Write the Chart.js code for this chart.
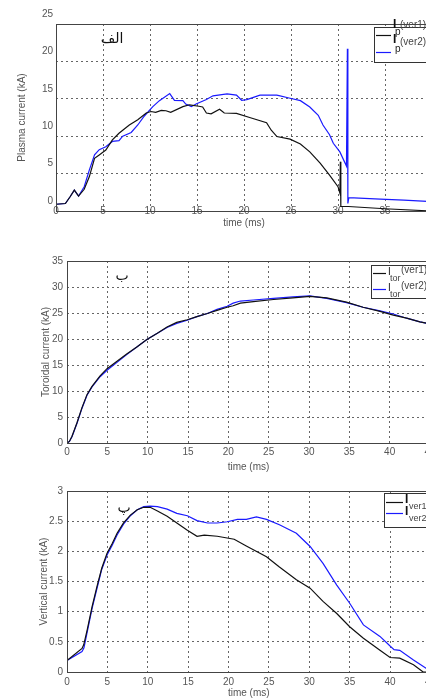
<!DOCTYPE html>
<html>
<head>
<meta charset="utf-8">
<script src="https://cdn.jsdelivr.net/npm/chart.js@4.4.1/dist/chart.umd.min.js"></script>
<style>
    body { margin: 0; background: #fff; overflow: hidden; width: 426px; height: 700px; position: relative; }
    canvas { position: absolute; left: 0; }
</style>
</head>
<body>
<canvas id="c1" width="440" height="232" style="top:0px"></canvas>
<canvas id="c2" width="440" height="230" style="top:248px"></canvas>
<canvas id="c3" width="440" height="222" style="top:478px"></canvas>
<script>
// plasma current (kA) vs time (ms)
const tIp1 = [0, 1.0, 1.5, 1.95, 2.4, 3.0, 3.55, 4.1, 4.6, 5.3, 6.0, 6.7, 7.8, 8.7, 9.6, 10.1, 10.6, 11.2, 11.7, 12.2, 13.5, 14.2, 15.2, 15.6, 16.0, 16.5, 17.4, 17.9, 19.2, 20.6, 22.4, 22.9, 23.5, 24.9, 26.0, 27.0, 28.1, 29.1, 30.0, 30.2, 30.25, 30.3, 31.1, 35, 40];
const ipVer1 = [0.9, 1.0, 1.9, 2.8, 2.0, 2.9, 4.6, 7.05, 7.5, 8.15, 9.5, 10.4, 11.5, 12.2, 13.1, 13.3, 13.2, 13.45, 13.4, 13.2, 13.95, 14.2, 14.0, 13.9, 13.1, 13.0, 13.6, 13.1, 13.05, 12.5, 11.8, 10.8, 9.95, 9.6, 8.95, 7.9, 6.4, 4.8, 3.25, 2.4, 6.6, 0.6, 0.6, 0.3, 0.0];
const tIp2 = [0, 1.0, 1.5, 1.95, 2.4, 3.0, 3.55, 4.1, 4.6, 5.3, 6.0, 6.7, 7.1, 8.0, 8.7, 9.4, 10.3, 11.0, 12.1, 12.6, 13.5, 13.8, 14.4, 14.9, 16.0, 16.7, 18.2, 19.2, 19.75, 20.3, 21.7, 23.5, 24.9, 26.0, 27.0, 27.9, 28.4, 29.1, 29.5, 30.2, 30.9, 31.0, 31.05, 31.15, 34.5, 37, 40];
const ipVer2 = [0.9, 1.0, 1.9, 2.8, 2.0, 3.25, 5.5, 7.5, 8.2, 8.6, 9.3, 9.4, 10.0, 10.5, 11.5, 12.7, 13.95, 14.75, 15.7, 14.8, 14.75, 14.3, 13.95, 14.3, 14.9, 15.4, 15.65, 15.5, 14.8, 14.9, 15.5, 15.5, 15.07, 14.75, 13.9, 12.8, 11.5, 10.2, 9.05, 7.9, 6.0, 21.7, 1.0, 1.8, 1.6, 1.45, 1.25];

// toroidal current (kA)
const tTor = [0, 0.3, 0.62, 1.24, 1.86, 2.48, 3.1, 4.1, 4.96, 6.2, 7.4, 8.7, 9.9, 11.2, 12.4, 13.6, 14.9, 16.1, 17.4, 18.6, 19.85, 20.6, 21.5, 23.1, 25.6, 28.0, 30.1, 32.2, 34.65, 36.7, 38.8, 40.45, 42.1, 43.75, 45];
const torVer1 = [0, 0.3, 1.3, 3.9, 6.8, 9.3, 10.9, 12.9, 14.3, 15.7, 17.1, 18.5, 19.9, 21.1, 22.3, 23.2, 23.7, 24.3, 24.9, 25.5, 26.1, 26.4, 26.9, 27.2, 27.6, 27.9, 28.2, 27.9, 27.1, 26.1, 25.3, 24.6, 24.0, 23.3, 22.9];
const torVer2 = [0, 0.3, 1.2, 3.8, 6.7, 9.2, 10.8, 12.75, 14.0, 15.5, 17.0, 18.5, 19.9, 21.1, 22.2, 23.0, 23.6, 24.3, 24.9, 25.7, 26.3, 26.9, 27.3, 27.5, 27.8, 28.1, 28.3, 27.8, 27.0, 26.1, 25.4, 24.8, 24.0, 23.3, 22.9];

// vertical current (kA)
const tVer1 = [0, 1.86, 2.07, 2.5, 3.1, 3.7, 4.3, 4.96, 5.6, 6.2, 7.0, 7.85, 8.7, 9.5, 10.3, 11.2, 12.4, 13.6, 14.9, 16.1, 17.0, 18.6, 20.7, 22.2, 24.7, 26.3, 28.4, 30.1, 31.7, 33.4, 35.0, 36.7, 38.75, 40.0, 41.2, 42.9, 44.1, 45];
const ivVer1 = [0.19, 0.39, 0.45, 0.70, 1.08, 1.41, 1.72, 1.97, 2.13, 2.30, 2.47, 2.6, 2.69, 2.73, 2.73, 2.67, 2.58, 2.47, 2.35, 2.25, 2.27, 2.25, 2.2, 2.09, 1.91, 1.74, 1.53, 1.39, 1.17, 0.97, 0.75, 0.56, 0.36, 0.24, 0.23, 0.12, 0.0, 0.0];
const tVer2 = [0, 1.86, 2.1, 2.5, 3.1, 3.7, 4.3, 4.96, 5.6, 6.2, 7.0, 7.85, 8.7, 9.5, 10.3, 11.2, 12.4, 13.6, 14.9, 16.1, 17.4, 18.6, 19.85, 21.1, 22.2, 23.45, 24.7, 26.3, 28.4, 30.1, 31.7, 33.4, 35.0, 36.7, 38.75, 40.0, 40.5, 41.2, 42.9, 44.5, 45];
const ivVer2 = [0.19, 0.34, 0.40, 0.66, 1.05, 1.38, 1.70, 1.94, 2.10, 2.27, 2.45, 2.59, 2.69, 2.74, 2.75, 2.74, 2.70, 2.63, 2.59, 2.51, 2.47, 2.47, 2.49, 2.53, 2.53, 2.57, 2.53, 2.44, 2.30, 2.08, 1.80, 1.44, 1.14, 0.78, 0.59, 0.43, 0.37, 0.36, 0.2, 0.06, 0.03];

const tickColor = "#555";
const tickFont = { family: "Liberation Sans", size: 10 };

function pts(xs, ys) {
    return xs.map((x, i) => ({ x: x, y: ys[i] }));
}

function line(label, data, color) {
    return { label, data, borderColor: color, borderWidth: 1.2, pointRadius: 0, tension: 0, fill: false };
}

function xScale(max, h, pad, titlePad, mirror) {
    return {
        type: "linear", min: 0, max: max,
        afterFit: s => { s.height = h; },
        ticks: { stepSize: 5, padding: pad, mirror: !!mirror, color: tickColor, font: tickFont, maxRotation: 0, autoSkip: false },
        grid: { color: "#666", lineWidth: 1, drawTicks: false },
        border: { display: false, dash: [2, 3] },
        title: { display: true, text: "time (ms)", color: tickColor, font: tickFont, padding: { top: 0, bottom: titlePad } }
    };
}

function yScale(max, step, w, pad, title, labelOffset) {
    return {
        min: 0, max: max,
        afterFit: s => { s.width = w; },
        ticks: { stepSize: step, padding: pad, color: tickColor, font: tickFont, labelOffset: labelOffset, callback: v => v },
        grid: { color: "#666", lineWidth: 1, drawTicks: false },
        border: { display: false, dash: [2, 3] },
        title: { display: true, text: title, color: tickColor, font: tickFont, padding: { top: 2, bottom: 0 } }
    };
}

function text(ctx, s, x, y, font, color) {
    ctx.font = font;
    ctx.fillStyle = color || "#222";
    ctx.textBaseline = "middle";
    ctx.textAlign = "left";
    ctx.fillText(s, x, y);
}

// frame + legend + panel letter, drawn after the chart
function decor(drawExtra) {
    return {
        id: "decor",
        afterDraw(chart) {
            const ctx = chart.ctx;
            const a = chart.chartArea;
            ctx.save();
            ctx.strokeStyle = "#444";
            ctx.lineWidth = 1;
            ctx.strokeRect(Math.round(a.left) + 0.5, Math.round(a.top) + 0.5, Math.round(a.right - a.left), Math.round(a.bottom - a.top));
            drawExtra(ctx);
            ctx.restore();
        }
    };
}

function legendBox(ctx, x, y, w, h) {
    ctx.fillStyle = "#fff";
    ctx.fillRect(x, y, w, h);
    ctx.strokeStyle = "#333";
    ctx.lineWidth = 1;
    ctx.strokeRect(x + 0.5, y + 0.5, w, h);
}

function seg(ctx, x1, x2, y, color) {
    ctx.strokeStyle = color;
    ctx.lineWidth = 1.2;
    ctx.beginPath();
    ctx.moveTo(x1, y + 0.5);
    ctx.lineTo(x2, y + 0.5);
    ctx.stroke();
}

const small = "10px 'Liberation Sans'";
const tiny = "9px 'Liberation Sans'";
const bold = "bold 12px 'Liberation Sans'";
const persian = "14px 'DejaVu Sans'";

new Chart(document.getElementById("c1"), {
    type: "line",
    data: {
        datasets: [
            line("Ip(ver1)", pts(tIp1, ipVer1), "#111"),
            line("Ip(ver2)", pts(tIp2, ipVer2), "#1a1aff")
        ]
    },
    options: {
        responsive: false, animation: false,
        layout: { padding: { left: 14, top: 24, right: 8, bottom: 1 } },
        plugins: { legend: { display: false }, tooltip: { enabled: false } },
        scales: {
            x: xScale(40, 20, -6, 2, true),
            y: yScale(25, 5, 42, 3, "Plasma current (kA)", -10)
        }
    },
    plugins: [decor(ctx => {
        legendBox(ctx, 374, 27, 70, 35);
        text(ctx, "I", 393, 25, bold, "#111");
        text(ctx, "(ver1)", 400, 25, small, "#444");
        seg(ctx, 376, 391, 35, "#111");
        text(ctx, "p", 395, 32, small, "#222");
        text(ctx, "I", 393, 40, bold, "#111");
        text(ctx, "(ver2)", 400, 42, small, "#444");
        seg(ctx, 376, 391, 52, "#1a1aff");
        text(ctx, "p", 395, 49, small, "#222");
        ctx.direction = "rtl";
        ctx.font = persian;
        ctx.fillStyle = "#111";
        ctx.textAlign = "center";
        ctx.fillText("الف", 112, 39);
    })]
});

new Chart(document.getElementById("c2"), {
    type: "line",
    data: {
        datasets: [
            line("Itor(ver1)", pts(tTor, torVer1), "#111"),
            line("Itor(ver2)", pts(tTor, torVer2), "#1a1aff")
        ]
    },
    options: {
        responsive: false, animation: false,
        layout: { padding: { left: 38, top: 13, right: 10, bottom: 3 } },
        plugins: { legend: { display: false }, tooltip: { enabled: false } },
        scales: {
            x: xScale(45, 32, 3, 2),
            y: yScale(35, 5, 29, 4, "Toroidal current (kA)", 0)
        }
    },
    plugins: [decor(ctx => {
        legendBox(ctx, 371, 17, 70, 33);
        seg(ctx, 373, 386, 25, "#111");
        text(ctx, "I", 388, 24, small, "#222");
        text(ctx, "tor", 390, 31, tiny, "#444");
        text(ctx, "(ver1)", 401, 22, small, "#444");
        seg(ctx, 373, 386, 41, "#1a1aff");
        text(ctx, "I", 388, 40, small, "#222");
        text(ctx, "tor", 390, 47, tiny, "#444");
        text(ctx, "(ver2)", 401, 38, small, "#444");
        ctx.direction = "rtl";
        ctx.font = persian;
        ctx.fillStyle = "#111";
        ctx.textAlign = "center";
        ctx.fillText("ب", 122, 28);
    })]
});

new Chart(document.getElementById("c3"), {
    type: "line",
    data: {
        datasets: [
            line("Iver1", pts(tVer1, ivVer1), "#111"),
            line("Iver2", pts(tVer2, ivVer2), "#1a1aff")
        ]
    },
    options: {
        responsive: false, animation: false,
        layout: { padding: { left: 36, top: 13, right: 9, bottom: 0 } },
        plugins: { legend: { display: false }, tooltip: { enabled: false } },
        scales: {
            x: xScale(45, 28, 4, 1),
            y: yScale(3, 0.5, 31, 4, "Vertical current (kA)", 0)
        }
    },
    plugins: [decor(ctx => {
        legendBox(ctx, 384, 15, 60, 34);
        seg(ctx, 386, 403, 24, "#111");
        text(ctx, "I", 405, 22, bold, "#111");
        text(ctx, "ver1", 409, 29, tiny, "#444");
        seg(ctx, 386, 403, 35, "#1a1aff");
        text(ctx, "I", 405, 34, bold, "#111");
        text(ctx, "ver2", 409, 41, tiny, "#444");
        ctx.direction = "rtl";
        ctx.font = persian;
        ctx.fillStyle = "#111";
        ctx.textAlign = "center";
        ctx.fillText("پ", 124, 30);
    })]
});
</script>
</body>
</html>
